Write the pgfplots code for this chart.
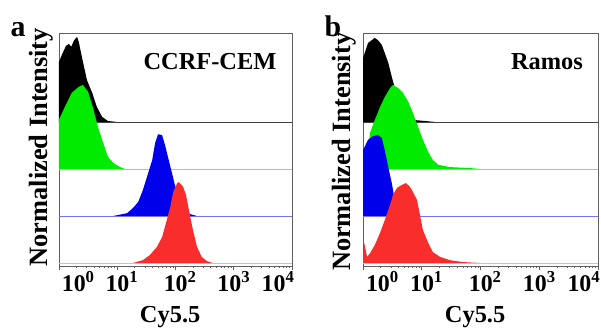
\documentclass[border=0pt]{standalone}
\usepackage{fontspec}
\setmainfont{Liberation Serif}
\usepackage{pgfplots}
\pgfplotsset{compat=1.18}
\definecolor{cgrn}{RGB}{0,235,0}
\definecolor{cblu}{RGB}{0,0,235}
\definecolor{cred}{RGB}{250,45,45}
\definecolor{axgray}{RGB}{95,95,95}

\pgfplotsset{flowax/.style={
  scale only axis, height=233bp,
  xmin=0, xmax=4, ymin=-0.064, ymax=4.893,
  axis line style={draw=axgray, line width=0.8bp},
  ytick=\empty,
  xtick={0,1,2,3,4}, xticklabels={},
  minor xtick={0.301,0.477,0.602,0.699,0.778,0.845,0.903,0.954,
    1.301,1.477,1.602,1.699,1.778,1.845,1.903,1.954,
    2.301,2.477,2.602,2.699,2.778,2.845,2.903,2.954,
    3.301,3.477,3.602,3.699,3.778,3.845,3.903,3.954},
  tick align=outside, xtick pos=bottom,
  major tick length=4bp, minor tick length=2.5bp,
  tick style={draw=axgray, line width=0.6bp},
  extra x ticks={0.33,1.08,2.08,3.0,3.76},
  extra x tick labels={{10\textsuperscript{0}},{10\textsuperscript{1}},{10\textsuperscript{2}},{10\textsuperscript{3}},{10\textsuperscript{4}}},
  extra x tick style={major tick length=0pt,
    tick label style={font=\fontsize{24}{24}\selectfont\bfseries, yshift=-2bp}},
  xlabel={Cy5.5},
  xlabel style={font=\fontsize{24.5}{24.5}\selectfont\bfseries, at={(axis description cs:0.477,0)}, anchor=base, yshift=-56bp},
  ylabel={Normalized Intensity},
  ylabel style={font=\fontsize{26.5}{26.5}\selectfont\bfseries, anchor=center},
  clip=true,
}}

\begin{document}
\begin{tikzpicture}
\path[use as bounding box] (0,0) rectangle (601bp,331bp);

% ---------------- panel a ----------------
\begin{axis}[flowax, width=233bp, at={(59bp,65bp)}, anchor=south west,
  ylabel style={at={(axis description cs:-0.077,0.51)}}]
% black
\addplot[fill=black, draw=none] coordinates {(0,3) (0,4.28) (0.05,4.43) (0.12,4.62) (0.17,4.66) (0.21,4.60) (0.26,4.74) (0.31,4.81) (0.34,4.70) (0.39,4.40) (0.48,3.89) (0.57,3.62) (0.65,3.32) (0.74,3.11) (0.84,3.02) (1.0,3.0)};
\addplot[draw=black!75, line width=0.6bp] coordinates {(0,3) (4,3)};
% green
\addplot[fill=cgrn, draw=none] coordinates {(0,2) (0,3.05) (0.10,3.32) (0.22,3.62) (0.33,3.74) (0.41,3.79) (0.50,3.64) (0.58,3.32) (0.67,2.89) (0.76,2.55) (0.84,2.26) (0.93,2.13) (1.05,2.04) (1.13,2.0)};
\addplot[draw=cgrn!60, line width=0.8bp] coordinates {(0,2) (4,2)};
% blue
\addplot[fill=cblu, draw=none] coordinates {(0.93,1.0) (1.17,1.06) (1.27,1.17) (1.36,1.30) (1.44,1.55) (1.53,1.91) (1.60,2.19) (1.65,2.55) (1.70,2.74) (1.77,2.72) (1.82,2.51) (1.87,2.26) (1.94,1.91) (1.99,1.66) (2.08,1.34) (2.16,1.13) (2.25,1.04) (2.37,1.0)};
\addplot[draw=cblu!55, line width=0.5bp] coordinates {(0,1) (4,1)};
% red
\addplot[fill=cred, draw=none] coordinates {(1.27,0) (1.44,0.06) (1.56,0.17) (1.68,0.34) (1.77,0.55) (1.85,0.91) (1.91,1.19) (1.96,1.51) (2.03,1.70) (2.06,1.72) (2.13,1.62) (2.18,1.45) (2.23,1.13) (2.30,0.70) (2.37,0.34) (2.45,0.13) (2.54,0.04) (2.64,0)};
\addplot[draw=cred!40, line width=0.6bp] coordinates {(0,0) (4,0)};
\node[font=\fontsize{24.5}{24.5}\selectfont\bfseries, anchor=center] at (axis description cs:0.648,0.876) {CCRF-CEM};
\end{axis}

% ---------------- panel b ----------------
\begin{axis}[flowax, width=235bp, at={(363bp,65bp)}, anchor=south west,
  ylabel style={at={(axis description cs:-0.081,0.49)}}]
% black
\addplot[fill=black, draw=none] coordinates {(0,3) (0,4.36) (0.085,4.68) (0.20,4.79) (0.255,4.74) (0.32,4.64) (0.37,4.47) (0.43,4.26) (0.49,3.96) (0.56,3.64) (0.63,3.40) (0.71,3.21) (0.80,3.11) (0.89,3.04) (1.06,3.02) (1.23,3.0)};
\addplot[draw=black!75, line width=0.6bp] coordinates {(0,3) (4,3)};
% green
\addplot[fill=cgrn, draw=none] coordinates {(0.05,2.0) (0.12,2.77) (0.20,3.04) (0.29,3.32) (0.37,3.53) (0.46,3.72) (0.51,3.79) (0.60,3.72) (0.68,3.62) (0.77,3.43) (0.85,3.19) (0.94,2.89) (1.02,2.62) (1.11,2.36) (1.19,2.19) (1.28,2.09) (1.48,2.04) (1.82,2.02) (1.99,2.0)};
\addplot[draw=cgrn!60, line width=0.8bp] coordinates {(0,2) (4,2)};
% blue
\addplot[fill=cblu, draw=none] coordinates {(0,1) (0,2.40) (0.02,2.45) (0.085,2.62) (0.17,2.70) (0.255,2.72) (0.32,2.66) (0.37,2.40) (0.43,2.04) (0.49,1.70) (0.54,1.34) (0.60,1.09) (0.68,1.02) (0.80,1.0)};
\addplot[draw=cblu!55, line width=0.5bp] coordinates {(0,1) (4,1)};
% red
\addplot[fill=cred, draw=none] coordinates {(0,0) (0.02,0.43) (0.07,0.13) (0.12,0.21) (0.20,0.38) (0.29,0.64) (0.37,0.91) (0.46,1.23) (0.51,1.45) (0.58,1.60) (0.66,1.66) (0.73,1.70) (0.80,1.62) (0.85,1.51) (0.92,1.34) (0.97,1.02) (1.02,0.70) (1.11,0.43) (1.19,0.23) (1.31,0.13) (1.48,0.06) (1.70,0.02) (1.99,0)};
\addplot[draw=cred!40, line width=0.6bp] coordinates {(0,0) (4,0)};
\node[font=\fontsize{24.5}{24.5}\selectfont\bfseries, anchor=center] at (axis description cs:0.783,0.876) {Ramos};
\end{axis}

\node[font=\fontsize{30}{30}\selectfont\bfseries, anchor=base] at (18bp,294bp) {a};
\node[font=\fontsize{30}{30}\selectfont\bfseries, anchor=base] at (333bp,294bp) {b};
\end{tikzpicture}
\end{document}
